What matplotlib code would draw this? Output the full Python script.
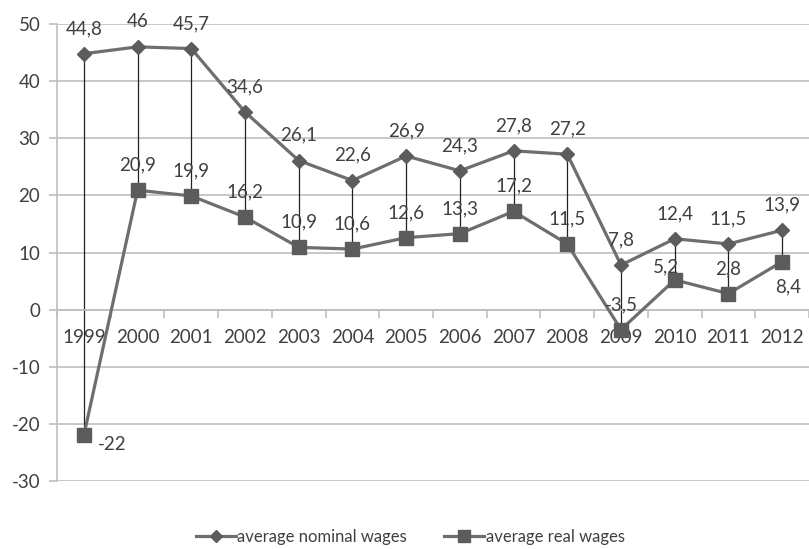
import matplotlib
matplotlib.use("Agg")
import matplotlib.pyplot as plt
import numpy as np

plt.rcParams['font.family'] = ['Lato', 'DejaVu Sans']
plt.rcParams['axes.unicode_minus'] = False

years = ['1999', '2000', '2001', '2002', '2003', '2004', '2005', '2006',
         '2007', '2008', '2009', '2010', '2011', '2012']
nominal = [44.8, 46, 45.7, 34.6, 26.1, 22.6, 26.9, 24.3, 27.8, 27.2, 7.8, 12.4, 11.5, 13.9]
real = [-22, 20.9, 19.9, 16.2, 10.9, 10.6, 12.6, 13.3, 17.2, 11.5, -3.5, 5.2, 2.8, 8.4]

txt_col = '#404040'
line_col = '#6e6e6e'
mark_col = '#5c5c5c'
grid_col = '#bfbfbf'
fs = 13.5


def fmt(v):
    return f"{v:g}".replace('.', ',')


fig = plt.figure(figsize=(8.09, 5.49), dpi=100)
ax = fig.add_axes([57 / 809, 68 / 549, 752 / 809, 457 / 549])

x = np.arange(len(years))

# high-low lines
ax.vlines(x, real, nominal, color='#222222', lw=0.9, zorder=2)

ax.plot(x, nominal, color=line_col, lw=2.3, marker='D', ms=7.5,
        mfc=mark_col, mec=mark_col, zorder=3, label='average nominal wages')
ax.plot(x, real, color=line_col, lw=2.3, marker='s', ms=10,
        mfc=mark_col, mec=mark_col, zorder=3, label='average real wages')

# data labels
for i, v in enumerate(nominal):
    ax.annotate(fmt(v), (i, v), xytext=(0, 12), textcoords='offset points',
                ha='center', va='bottom', fontsize=fs, color=txt_col)

for i, v in enumerate(real):
    if i == 0:
        off, ha, va = (10, -13), 'left', 'bottom'
    elif i == len(real) - 1:
        off, ha, va = (4, -12), 'center', 'top'
    elif i == 11:
        off, ha, va = (-6, 3), 'center', 'bottom'
    else:
        off, ha, va = (0, 12), 'center', 'bottom'
    ax.annotate(fmt(v), (i, v), xytext=off, textcoords='offset points',
                ha=ha, va=va, fontsize=fs, color=txt_col)

ax.set_ylim(-30, 50)
ax.set_xlim(-0.5, 13.39)
ax.set_yticks(np.arange(-30, 51, 10))
ax.yaxis.grid(True, color=grid_col, lw=1.2)
ax.set_axisbelow(True)

for s in ['top', 'right']:
    ax.spines[s].set_visible(False)
ax.spines['left'].set_color(grid_col)
ax.spines['left'].set_linewidth(1.2)
ax.spines['bottom'].set_position(('data', 0))
ax.spines['bottom'].set_color(grid_col)
ax.spines['bottom'].set_linewidth(1.2)

ax.set_xticks(x)
ax.set_xticklabels(years)
ax.set_xticks(np.arange(-0.5, 13.6, 1), minor=True)
ax.tick_params(axis='x', which='major', length=0, pad=14, labelsize=fs, labelcolor=txt_col)
ax.tick_params(axis='x', which='minor', length=6, color=grid_col, width=1.2)
ax.tick_params(axis='y', length=6, color=grid_col, width=1.2, labelsize=fs,
               labelcolor=txt_col, pad=6)

fig.legend(loc='center', bbox_to_anchor=(0.507, 0.022), ncol=2, frameon=False,
           fontsize=12, handlelength=2.4, columnspacing=2.2, handletextpad=0.1,
           labelcolor=txt_col, markerscale=0.85)

fig.savefig('out.png', dpi=100)
